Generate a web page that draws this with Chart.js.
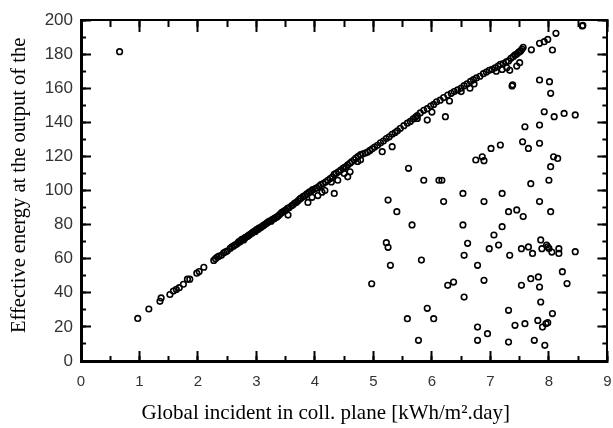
<!DOCTYPE html>
<html>
<head>
<meta charset="utf-8">
<script src="https://cdn.jsdelivr.net/npm/chart.js@4.4.1/dist/chart.umd.min.js"></script>
<style>
  html, body { margin: 0; padding: 0; background: #fff; }
  #wrap { width: 613px; height: 428px; }
</style>
</head>
<body>
<div id="wrap"><canvas id="chart" width="613" height="428"></canvas></div>
<script>
// points that follow the main trend (x: kWh/m2.day, y: effective energy)
var bandX = [0.97,1.16,1.35,1.37,1.52,1.58,1.63,1.68,1.75,1.82,1.86,1.98,2.02,2.1,2.27,2.3,2.33,2.36,2.4,2.44,
  2.47,2.5,2.55,2.58,2.61,2.63,2.66,2.69,2.7,2.72,2.74,2.76,2.78,2.8,2.81,2.84,2.86,2.88,2.9,2.92,
  2.94,2.96,2.98,3.0,3.02,3.04,3.06,3.08,3.1,3.12,3.14,3.16,3.18,3.2,3.22,3.25,3.27,3.3,3.32,3.35,
  3.37,3.4,3.43,3.45,3.48,3.5,3.53,3.56,3.6,3.62,3.65,3.68,3.71,3.74,3.76,3.8,3.83,3.86,3.9,3.93,
  3.96,4.0,4.03,4.07,4.1,4.14,4.18,4.22,4.26,4.3,4.33,4.36,4.4,4.44,4.48,4.5,4.53,4.56,4.6,4.63,
  4.67,4.7,4.74,4.78,4.82,4.86,4.9,4.94,4.98,5.02,5.07,5.12,5.17,5.22,5.27,5.32,5.37,5.41,5.46,5.52,
  5.58,5.63,5.68,5.72,5.75,5.8,5.86,5.92,5.98,6.03,6.08,6.14,6.2,6.27,6.33,6.38,6.44,6.5,6.55,6.6,
  6.66,6.71,6.76,6.82,6.88,6.93,6.98,7.03,7.08,7.13,7.17,7.22,7.27,7.31,7.35,7.39,7.42,7.45,7.48,7.5,
  7.52,7.54,7.56];
var bandY = [25,30.5,35,37,39,41,42,43,45,48,48,51.5,52.5,55,59,60,61,61.5,62,63.5,
  64,64.5,66,67,67.5,68,68.5,69.5,70,70,71,71.5,71,72,72.5,73,73.5,74,74.5,75,
  75.5,76,76,77,77,78,78,78.5,79,79.5,80,80.5,81,81.5,82,82,83,83.5,84,84.5,
  85,86,87,87.5,88,88.5,89.5,90,91,91.5,92.5,93,94,95,95.5,96.5,97,98,99,99.5,
  100.5,101,101.5,102.5,103.5,104,105,106,107,108,109.5,110,111,112,113,113.5,114,115,116,117,
  118,119,120,121,121.5,122,122.5,123.5,124.5,125.5,126.5,128,129,130.5,131.5,133,134,135,136.5,138,
  139.5,140.5,142,143,144,145.5,147,148,149.5,150.5,152,153,154.5,156,157,158,159,160,161.5,162.5,
  164,165,166,167,168.5,169.5,170.5,171,172,173,174,174.5,175.5,176,177.5,178.5,179.5,180,181,181.5,
  182,183,184];

// points slightly under the trend
var underX = [3.54,3.88,3.95,4.05,4.12,4.17,4.28,4.39,4.5,4.56,4.6,4.73,4.78,5.15,5.32,5.75,5.92,6.0,
  6.23,6.3,6.5,6.65,6.72,7.1,7.2,7.28,7.33,7.45,7.5,4.33,4.97];
var underY = [85.6,93,96,97,99,100,105,106,110,108,111,117,118,122.8,125.7,142.3,141.3,146,
  143.3,152.5,158,160,162.5,170,171,172,170.5,173,175,98.3,45.3];

// scattered points (lower right and top)
var spreadX = [0.66,5.86,6.12,6.17,7.69,8.0,5.25,5.4,6.2,6.53,6.89,7.2,7.84,5.66,6.53,7.31,7.45,7.56,8.03,7.2,
  7.06,5.22,5.25,6.61,6.98,7.14,5.82,6.55,7.33,7.53,7.65,7.72,7.86,7.88,7.96,7.98,8.0,8.05,8.17,8.17,
  8.45,5.29,6.78,8.23,6.27,6.37,6.89,7.53,7.69,7.82,7.84,8.31,6.55,7.86,5.92,7.31,5.58,6.03,8.06,6.78,
  7.42,7.59,7.81,7.89,7.95,7.98,6.95,5.77,6.78,7.31,7.75,7.93,5.6,
  8.57,8.58,8.12,7.98,7.92,7.84,7.7,8.06,7.84,8.01,8.03,7.37,7.38,7.92,8.09,8.26,8.45,7.59,7.84,7.55,
  7.65,7.84,7.17,7.01,6.75,6.86,6.89,8.08,8.15,8.03];
var spreadY = [181.4,106,106,106,104,106,94.4,87.6,93.5,98.3,93.5,98.3,93.5,79.8,79.8,87.6,88.6,84.7,87.6,78.8,
  73.9,69.4,66.7,69,65.9,68,59.2,62,62,65.9,66.9,63.1,71,65.9,68,67,66,63.9,65.9,63.1,
  64.1,56.1,56.1,52.4,44.4,46.3,47.3,44.4,48.3,49.3,43.4,45.4,37.5,34.6,30.9,29.7,24.8,24.8,27.8,19.9,
  20.9,21.9,23.8,19.9,21.9,22.5,16,12.1,12.1,11.1,12.1,9.2,113,
  196.5,196.8,192.2,188.6,187.3,186.3,182.5,182.4,164.8,163.8,157,161.3,162,146.2,143.3,145.2,144.3,137.4,138.4,128.6,
  124.7,127.7,126.7,124.7,117.9,119.8,117.5,119.8,118.8,114];

function toPoints(xs, ys) {
  var out = [];
  for (var i = 0; i < xs.length; i++) out.push({x: xs[i], y: ys[i]});
  return out;
}

var markerStyle = {
  pointStyle: 'circle',
  pointRadius: 2.8,
  pointBorderWidth: 1.6,
  pointBorderColor: '#000',
  pointBackgroundColor: 'rgba(0,0,0,0)',
  borderColor: '#000',
  backgroundColor: 'rgba(0,0,0,0)',
  showLine: false
};

var NB = '\u00a0';

// no extra room around the plot for the end labels ("9" is cut at the edge, as in the original)
function noPadding(s) {
  s.paddingLeft = 0; s.paddingRight = 0; s.paddingTop = 0; s.paddingBottom = 0;
  s.getPadding = function() { return { left: 0, top: 0, right: 0, bottom: 0 }; };
}

// extra axes that only carry inward tick marks (frame sides / minor ticks)
function tickAxis(axis, position, min, max, step, len, borderW, weight) {
  return {
    type: 'linear', axis: axis, position: position, min: min, max: max, weight: weight,
    grid: { display: true, drawOnChartArea: false, drawTicks: true, tickLength: -len,
      tickWidth: 2, tickColor: '#000' },
    border: { display: borderW > 0, width: borderW || 1, color: '#000' },
    ticks: { display: false, stepSize: step, maxTicksLimit: 100, autoSkip: false },
    afterFit: function(s) {
      if (s.isHorizontal()) s.height = 0; else s.width = 0;
      noPadding(s);
    }
  };
}

new Chart(document.getElementById('chart'), {
  type: 'scatter',
  data: {
    datasets: [
      Object.assign({label: 'band', data: toPoints(bandX, bandY)}, markerStyle),
      Object.assign({label: 'under', data: toPoints(underX, underY)}, markerStyle),
      Object.assign({label: 'spread', data: toPoints(spreadX, spreadY)}, markerStyle)
    ]
  },
  options: {
    responsive: false,
    animation: false,
    layout: { padding: { left: 0, top: 20, right: 1, bottom: 0 } },
    plugins: { legend: { display: false }, tooltip: { enabled: false } },
    scales: {
      x: {
        type: 'linear', position: 'bottom', min: 0, max: 9, weight: 0,
        grid: { display: true, drawOnChartArea: false, drawTicks: true, tickLength: -10,
          tickWidth: 2, tickColor: '#000' },
        border: { display: true, width: 3, color: '#000' },
        ticks: { stepSize: 1, padding: 22, color: '#333', maxRotation: 0, autoSkip: false,
          font: { family: '"Liberation Sans", Arial, sans-serif', size: 15 } },
        title: { display: true,
          text: 'Global incident in coll. plane [kWh/m\u00b2.day]' + NB.repeat(7),
          color: '#000',
          font: { family: '"Liberation Serif", "Times New Roman", serif', size: 21, lineHeight: 1 },
          padding: { top: 0, bottom: 4 } },
        afterFit: function(s) { s.height = 67; noPadding(s); }
      },
      y: {
        type: 'linear', position: 'left', min: 0, max: 200, weight: 0,
        grid: { display: true, drawOnChartArea: false, drawTicks: true, tickLength: -10,
          tickWidth: 2, tickColor: '#000' },
        border: { display: true, width: 3, color: '#000' },
        ticks: { stepSize: 20, padding: 18, color: '#333', autoSkip: false,
          font: { family: '"Liberation Sans", Arial, sans-serif', size: 17 } },
        title: { display: true,
          text: NB + NB + 'Effective energy at the output of the',
          color: '#000',
          font: { family: '"Liberation Serif", "Times New Roman", serif', size: 20.5, lineHeight: 1 },
          padding: { top: 9.5, bottom: 0 } },
        afterFit: function(s) { s.width = 81; noPadding(s); }
      },
      xMinor: tickAxis('x', 'bottom', 0, 9, 0.5, 5, 0, -1),
      yMinor: tickAxis('y', 'left', 0, 200, 10, 5, 0, -1),
      xTop: tickAxis('x', 'top', 0, 9, 1, 12, 2, 0),
      xTopMinor: tickAxis('x', 'top', 0, 9, 0.5, 7, 0, -1),
      yRight: tickAxis('y', 'right', 0, 200, 20, 10, 2, 0),
      yRightMinor: tickAxis('y', 'right', 0, 200, 10, 5, 0, -1)
    }
  }
});
</script>
</body>
</html>
